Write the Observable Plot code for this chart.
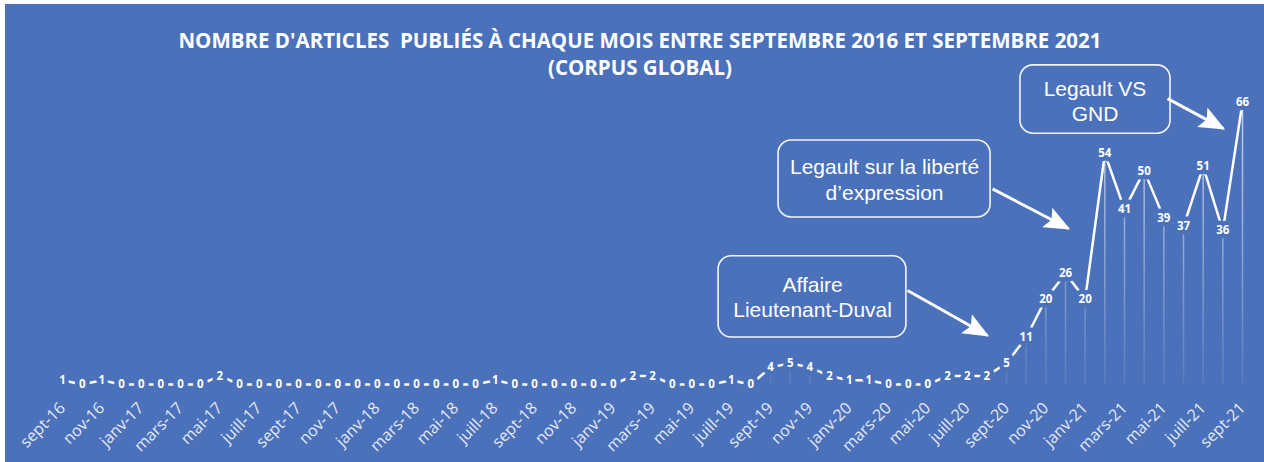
<!DOCTYPE html>
<html><head><meta charset="utf-8">
<script src="https://cdn.jsdelivr.net/npm/d3@7"></script>
<script src="https://cdn.jsdelivr.net/npm/@observablehq/plot@0.6"></script>
<style>
body{margin:0;background:#fff;}
#wrap{position:relative;width:1264px;height:462px;overflow:hidden;}
#bg{position:absolute;left:5px;top:4px;right:0;bottom:0;background:#4a71b9;}
#chart{position:absolute;left:0;top:0;}
.tl{position:absolute;left:0;width:1280px;text-align:center;color:#fff;font-family:"Open Sans",sans-serif;font-weight:700;font-size:20.5px;line-height:27px;white-space:pre;}
</style></head>
<body>
<div id="wrap"><div id="bg"></div><div id="chart"></div>
<div class="tl" style="top:27px">NOMBRE D'ARTICLES  PUBLIÉS À CHAQUE MOIS ENTRE SEPTEMBRE 2016 ET SEPTEMBRE 2021</div>
<div class="tl" style="top:54px;left:540px;width:200px">(CORPUS GLOBAL)</div></div>
<script>
const months = [
  "sept-16","oct-16","nov-16","déc-16",
  "janv-17","févr-17","mars-17","avr-17","mai-17","juin-17","juill-17","août-17","sept-17","oct-17","nov-17","déc-17",
  "janv-18","févr-18","mars-18","avr-18","mai-18","juin-18","juill-18","août-18","sept-18","oct-18","nov-18","déc-18",
  "janv-19","févr-19","mars-19","avr-19","mai-19","juin-19","juill-19","août-19","sept-19","oct-19","nov-19","déc-19",
  "janv-20","févr-20","mars-20","avr-20","mai-20","juin-20","juill-20","août-20","sept-20","oct-20","nov-20","déc-20",
  "janv-21","févr-21","mars-21","avr-21","mai-21","juin-21","juill-21","août-21","sept-21"
];
const counts = [
  1,0,1,0,
  0,0,0,0,2,0,0,0,0,0,0,0,
  0,0,0,0,0,0,1,0,0,0,0,0,
  0,2,2,0,0,0,1,0,4,5,4,2,
  1,1,0,0,0,2,2,2,5,11,20,26,
  20,54,41,50,39,37,51,36,66
];
const tickIndex = d3.range(0, months.length, 2);

// annotations (data coordinates: month index, article count)
const annTexts = ["Affaire\nLieutenant-Duval", "Legault sur la liberté\nd’expression", "Legault VS\nGND"];
const annX = [38.14, 41.8, 52.5];
const annY = [20.6, 48.1, 66.5];
const boxX1 = [33.36, 36.41, 48.71];
const boxX2 = [42.91, 47.19, 56.34];
const boxY1 = [11.0, 39.1, 58.7];
const boxY2 = [30.0, 57.1, 74.7];
const arrowX1 = [42.97, 47.29, 56.19];
const arrowY1 = [22.0, 45.8, 66.9];
const arrowX2 = [47.03, 51.15, 59.03];
const arrowY2 = [11.47, 36.5, 59.9];

const BG = "#4a71b9";
const rows = counts.map((v, i) => ({i, v, month: months[i]}));
const anns = annTexts.map((t, k) => ({t, x: annX[k], y: annY[k], x1: boxX1[k], x2: boxX2[k], y1: boxY1[k], y2: boxY2[k],
  ax1: arrowX1[k], ay1: arrowY1[k], ax2: arrowX2[k], ay2: arrowY2[k]}));

const plot = Plot.plot({
  width: 1264, height: 462,
  marginLeft: 62, marginRight: 22, marginTop: 102, marginBottom: 78,
  style: {background: "transparent", color: "white", fontFamily: "'Open Sans', sans-serif", overflow: "visible"},
  x: {type: "linear", domain: [0, 60], axis: null},
  y: {domain: [0, 66], axis: null},
  marks: [
    Plot.text(tickIndex, {x: d => d, y: 0, text: d => months[d], rotate: -45, textAnchor: "end",
      dx: 0, dy: 21, fontSize: 16, fill: "#e4e9f4"}),
    Plot.ruleX(rows, {x: "i", y1: 0, y2: "v", stroke: "url(#fade)", strokeWidth: 1.5}),
    Plot.line(rows, {x: "i", y: "v", stroke: "white", strokeWidth: 2.5}),
    Plot.text(rows, {x: "i", y: "v", text: d => String(d.v), fill: "white", stroke: BG, strokeWidth: 9,
      paintOrder: "stroke", strokeLinejoin: "round", fontWeight: "bold", fontSize: 11.5}),
    Plot.rect(anns, {x1: "x1", x2: "x2", y1: "y1", y2: "y2", rx: 13, fill: "none", stroke: "#f2f4fa", strokeWidth: 1.6}),
    Plot.text(anns, {x: "x", y: "y", text: "t", fill: "white", fontSize: 21, lineHeight: 1.22,
      fontFamily: "'Liberation Sans', Arial, sans-serif"}),
    Plot.link(anns, {x1: "ax1", y1: "ay1", x2: "ax2", y2: "ay2", stroke: "white", strokeWidth: 3})
  ]
});

const ns = "http://www.w3.org/2000/svg";
const defs = document.createElementNS(ns, "defs");
defs.innerHTML = `
  <linearGradient id="fade" gradientUnits="userSpaceOnUse" x1="0" y1="100" x2="0" y2="386">
    <stop offset="0" stop-color="white" stop-opacity="0.7"/>
    <stop offset="1" stop-color="white" stop-opacity="0.08"/>
  </linearGradient>
  <marker id="tri" markerUnits="userSpaceOnUse" markerWidth="26" markerHeight="22" viewBox="0 0 26 22" refX="24" refY="11" orient="auto">
    <path d="M0,0 L26,11 L0,22 L5,11 Z" fill="white"/>
  </marker>`;
plot.insertBefore(defs, plot.firstChild);
plot.querySelectorAll('g[aria-label="link"] path').forEach(p => p.setAttribute("marker-end", "url(#tri)"));
document.getElementById("chart").appendChild(plot);
</script>
</body></html>
